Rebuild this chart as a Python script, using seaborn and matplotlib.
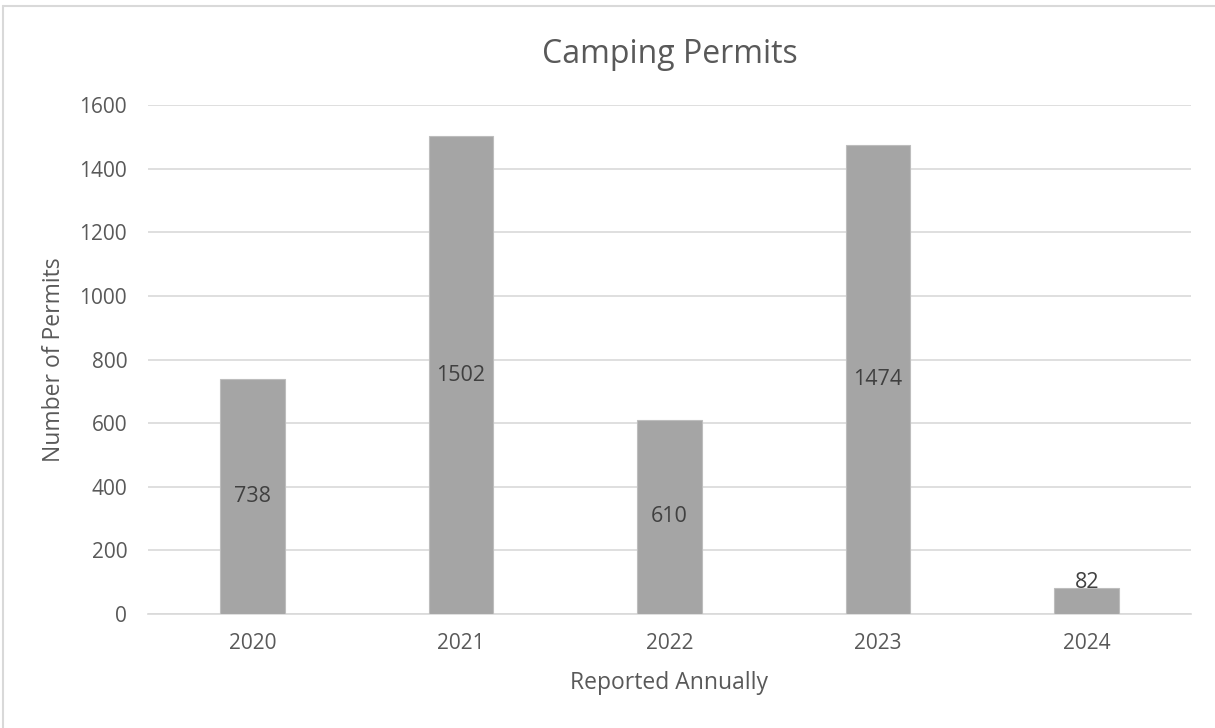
import matplotlib
matplotlib.use("Agg")
import matplotlib.pyplot as plt
import seaborn as sns
import pandas as pd
from matplotlib.lines import Line2D

# data
years = ["2020", "2021", "2022", "2023", "2024"]
permits = [738, 1502, 610, 1474, 82]
y_ticks = [0, 200, 400, 600, 800, 1000, 1200, 1400, 1600]

df = pd.DataFrame({"Year": years, "Permits": permits})

sns.set_theme(style="white")
plt.rcParams["font.family"] = ["Open Sans", "DejaVu Sans"]

fig = plt.figure(figsize=(12.15, 7.28), dpi=100)
ax = fig.add_axes([148 / 1215, 1 - 614 / 728, (1191 - 148) / 1215, (614 - 105) / 728])

sns.barplot(data=df, x="Year", y="Permits", color="#A5A5A5", width=0.31,
            edgecolor="#BDBDBD", linewidth=0.8, saturation=1, ax=ax, zorder=3)

ax.set_ylim(0, 1600)
ax.set_yticks(y_ticks)
ax.yaxis.grid(True, color="#D9D9D9", linewidth=1.2, zorder=0)
ax.set_axisbelow(True)
for s in ["top", "right", "left"]:
    ax.spines[s].set_visible(False)
ax.spines["bottom"].set_color("#D9D9D9")
ax.spines["bottom"].set_linewidth(1.2)
ax.tick_params(axis="both", length=0, labelsize=15, labelcolor="#595959")
ax.tick_params(axis="y", pad=15)
ax.tick_params(axis="x", pad=14)

labels = ax.bar_label(ax.containers[0], label_type="center", fontsize=15.5, color="#404040")
# excel pushes the small bar's label up so it sits on the bar
labels[-1].set_y(labels[-1].get_position()[1] + 13)

ax.set_title("Camping Permits", fontsize=23, color="#595959", pad=30)
ax.set_xlabel("Reported Annually", fontsize=16.5, color="#595959", labelpad=12)
ax.set_ylabel("Number of Permits", fontsize=16.5, color="#595959", labelpad=10)

# chart border (only left and top edges fall inside the image)
bx, by = 3 / 1215, 1 - 6 / 728
fig.add_artist(Line2D([bx, bx], [0, by], transform=fig.transFigure, color="#D9D9D9", lw=1.5))
fig.add_artist(Line2D([bx, 1], [by, by], transform=fig.transFigure, color="#D9D9D9", lw=1.5))

fig.savefig("out.png", dpi=100, facecolor="white")
